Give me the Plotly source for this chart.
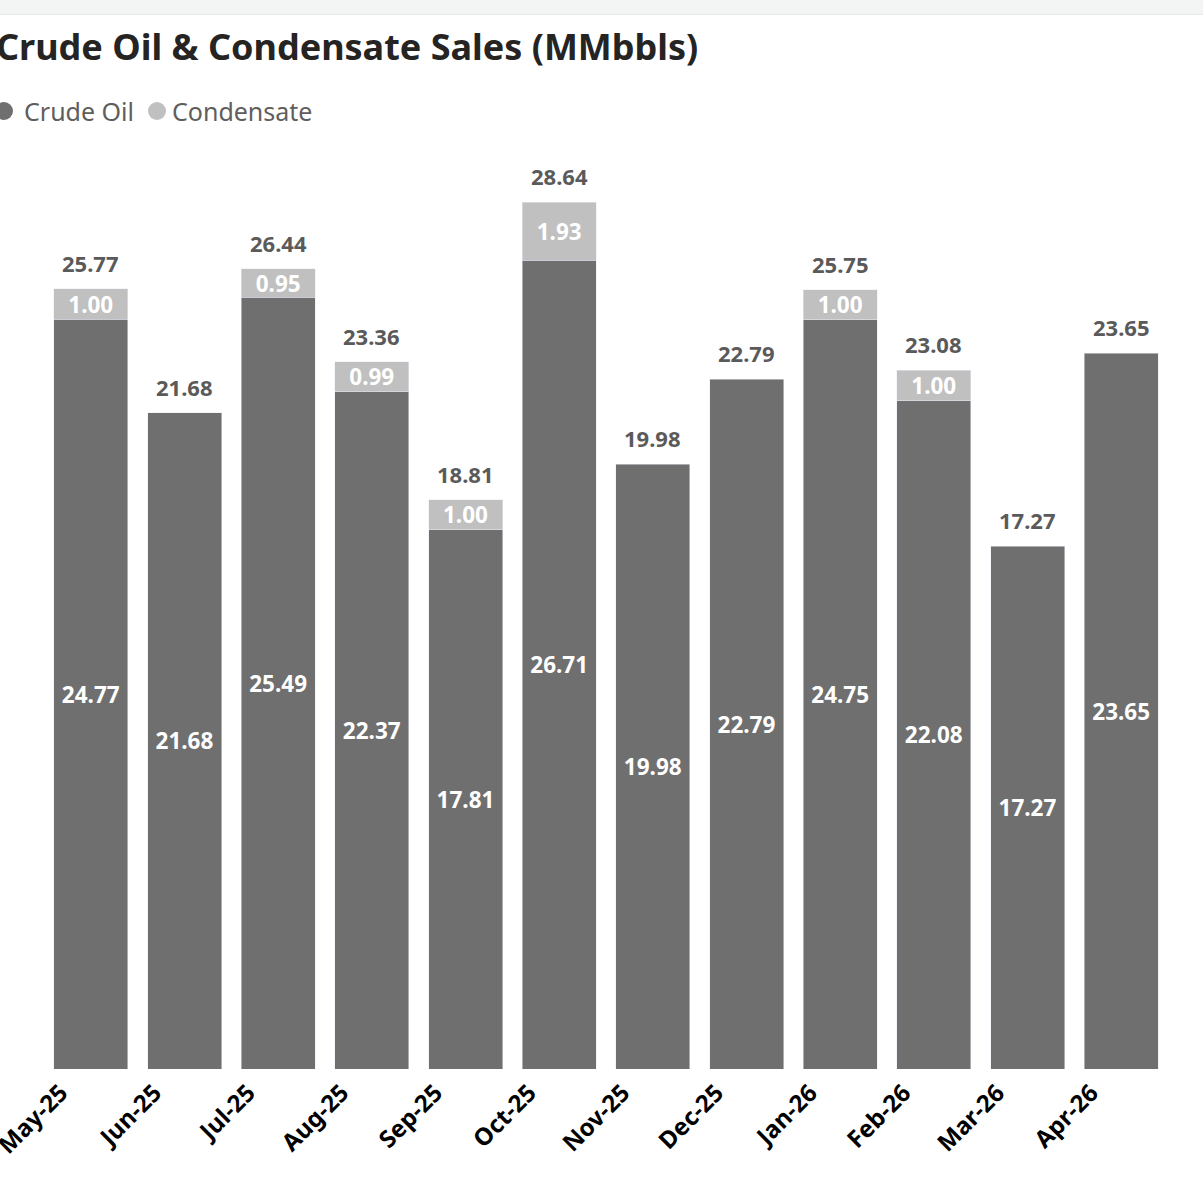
import plotly.graph_objects as go

months = ["May-25", "Jun-25", "Jul-25", "Aug-25", "Sep-25", "Oct-25",
          "Nov-25", "Dec-25", "Jan-26", "Feb-26", "Mar-26", "Apr-26"]
crude_oil = [24.77, 21.68, 25.49, 22.37, 17.81, 26.71, 19.98, 22.79, 24.75, 22.08, 17.27, 23.65]
condensate = [1.00, None, 0.95, 0.99, 1.00, 1.93, None, None, 1.00, 1.00, None, None]
totals = [25.77, 21.68, 26.44, 23.36, 18.81, 28.64, 19.98, 22.79, 25.75, 23.08, 17.27, 23.65]
series_names = ["Crude Oil", "Condensate"]

CRUDE_COLOR = "#6f6f6f"
COND_COLOR = "#c0c0c0"
FONT = "Noto Sans"

W, H = 1203, 1179
ML, MR, MT, MB = 44, 35, 150, 110
plot_h = H - MT - MB
plot_w = W - ML - MR

fig = go.Figure()
fig.add_trace(go.Bar(
    x=months, y=crude_oil, name=series_names[0], marker_color=CRUDE_COLOR,
    text=[f"{v:.2f}" for v in crude_oil], textposition="inside",
    insidetextanchor="middle", textangle=0, constraintext="none",
    textfont=dict(family=FONT, size=22.5, color="white", weight="bold"),
    showlegend=False, hoverinfo="skip"))
fig.add_trace(go.Bar(
    x=months, y=condensate, name=series_names[1], marker_color=COND_COLOR,
    text=[f"{v:.2f}" if v is not None else "" for v in condensate],
    textposition="inside", insidetextanchor="middle", textangle=0, constraintext="none",
    textfont=dict(family=FONT, size=22.5, color="white", weight="bold"),
    showlegend=False, hoverinfo="skip"))


def px_x(p):
    return (p - ML) / plot_w


def px_y(p):
    return (H - MB - p) / plot_h


annotations = [
    dict(x=m, y=t, xref="x", yref="y", text=f"<b>{t:.2f}</b>", showarrow=False,
         yanchor="bottom", yshift=9,
         font=dict(family=FONT, size=22, color="#5a5a5a"))
    for m, t in zip(months, totals)
]
annotations += [
    dict(text="<b>Crude Oil & Condensate Sales (MMbbls)</b>", xref="paper", yref="paper",
         x=px_x(-6), y=px_y(47), xanchor="left", yanchor="middle", showarrow=False,
         font=dict(family=FONT, size=36, color="#252423")),
    dict(text=series_names[0], xref="paper", yref="paper", x=px_x(22), y=px_y(111),
         xanchor="left", yanchor="middle", showarrow=False,
         font=dict(family=FONT, size=25, color="#605e5c")),
    dict(text=series_names[1], xref="paper", yref="paper", x=px_x(170), y=px_y(111),
         xanchor="left", yanchor="middle", showarrow=False,
         font=dict(family=FONT, size=25, color="#605e5c")),
]

shapes = [
    dict(type="rect", xref="paper", yref="paper", x0=px_x(-5), x1=px_x(W + 5),
         y0=px_y(0), y1=px_y(14), fillcolor="#f3f4f4", line=dict(width=0), layer="below"),
    dict(type="line", xref="paper", yref="paper", x0=px_x(-5), x1=px_x(W + 5),
         y0=px_y(14.5), y1=px_y(14.5), line=dict(color="#e8e8e8", width=1)),
    # legend dots
    dict(type="circle", xref="paper", yref="paper", xsizemode="pixel", ysizemode="pixel",
         xanchor=px_x(4), yanchor=px_y(111), x0=-9, x1=9, y0=-9, y1=9,
         fillcolor=CRUDE_COLOR, line=dict(width=0)),
    dict(type="circle", xref="paper", yref="paper", xsizemode="pixel", ysizemode="pixel",
         xanchor=px_x(157), yanchor=px_y(111), x0=-9, x1=9, y0=-9, y1=9,
         fillcolor=COND_COLOR, line=dict(width=0)),
]

fig.update_layout(
    width=W, height=H, barmode="stack", bargap=0.21,
    margin=dict(l=ML, r=MR, t=MT, b=MB, autoexpand=False),
    paper_bgcolor="white", plot_bgcolor="white",
    annotations=annotations, shapes=shapes,
    font=dict(family=FONT),
)
fig.update_xaxes(range=[-0.5, len(months) - 0.5], tickangle=-45, showgrid=False,
                 showline=False, ticks="",
                 tickfont=dict(family=FONT, size=24, color="#000000", weight="bold"),
                 ticklabelshift=-30, ticklabelstandoff=4)
fig.update_yaxes(range=[0, plot_h / 30.27], visible=False, showgrid=False)

fig.write_html(
    "out.html", config={"displayModeBar": False},
    post_script=("document.body.style.margin='0';document.body.style.overflow='hidden';"
                 "document.documentElement.style.overflow='hidden';"))
